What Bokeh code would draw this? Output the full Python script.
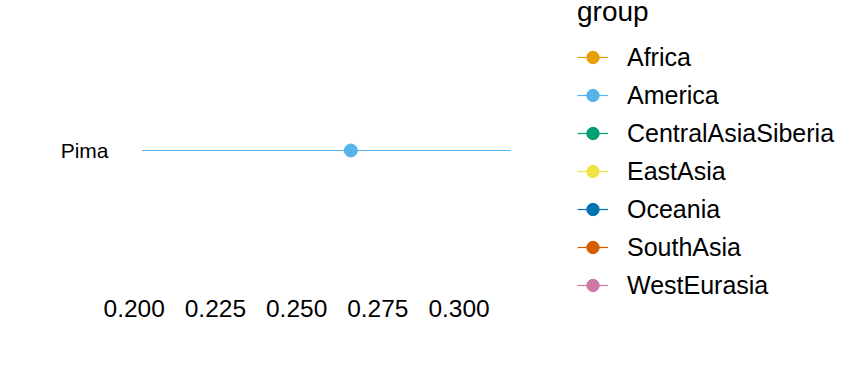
from bokeh.plotting import figure
from bokeh.models import Range1d, FactorRange, Legend, LegendItem, FixedTicker, ColumnDataSource
from bokeh.embed import file_html
from bokeh.resources import INLINE

groups = ["Africa", "America", "CentralAsiaSiberia", "EastAsia", "Oceania", "SouthAsia", "WestEurasia"]
group_colors = ["#E69F00", "#56B4E9", "#009E73", "#F0E442", "#0072B2", "#D55E00", "#CC79A7"]
populations = ["Pima"]
population_group = ["America"]
estimates = [0.2667]
lower = [0.2024]
upper = [0.3160]
x_ticks = [0.200, 0.225, 0.250, 0.275, 0.300]
x_tick_labels = ["0.200", "0.225", "0.250", "0.275", "0.300"]

FONT = "Liberation Sans"
NAN = float("nan")

lo, hi = min(lower), max(upper)
pad = 0.05 * (hi - lo)

p = figure(width=864, height=384, frame_width=406, frame_height=284,
           x_range=Range1d(lo - pad, hi + pad),
           y_range=FactorRange(factors=populations),
           output_backend="svg", toolbar_location=None,
           min_border_left=123, min_border_right=335,
           min_border_top=8, min_border_bottom=92)

p.outline_line_color = None
p.background_fill_color = "white"
p.border_fill_color = "white"
p.xgrid.visible = False
p.ygrid.visible = False

p.xaxis.ticker = FixedTicker(ticks=x_ticks)
p.xaxis.major_label_overrides = {t: l for t, l in zip(x_ticks, x_tick_labels)}
for ax in (p.xaxis[0], p.yaxis[0]):
    ax.axis_line_color = None
    ax.major_tick_line_color = None
    ax.minor_tick_line_color = None
    ax.major_label_text_font = FONT
    ax.major_label_text_color = "black"
p.xaxis.major_label_text_font_size = "24.5px"
p.xaxis.major_label_standoff = 1
p.yaxis.major_label_text_font_size = "21px"
p.yaxis.major_label_standoff = 9

items = []
for g, c in zip(groups, group_colors):
    idx = [i for i, pg in enumerate(population_group) if pg == g]
    if idx:
        data = dict(pop=[populations[i] for i in idx],
                    est=[estimates[i] for i in idx],
                    lo=[lower[i] for i in idx],
                    hi=[upper[i] for i in idx])
    else:
        # no population in this group: a placeholder row that draws nothing
        data = dict(pop=[populations[0]], est=[NAN], lo=[NAN], hi=[NAN])
    src = ColumnDataSource(data)
    seg = p.segment(x0="lo", y0="pop", x1="hi", y1="pop", source=src,
                    line_color=c, line_width=1.2)
    pt = p.scatter(x="est", y="pop", source=src, size=13,
                   fill_color=c, line_color=c)
    items.append(LegendItem(label=g, renderers=[seg, pt]))

legend = Legend(items=items, title="group", location=(48, -12), margin=0,
                padding=5, spacing=0, glyph_width=31, glyph_height=38,
                label_height=38, label_standoff=19,
                label_text_font=FONT, label_text_font_size="25px",
                label_text_color="black",
                title_text_font=FONT, title_text_font_size="28px",
                title_text_font_style="normal", title_text_color="black",
                title_standoff=10,
                border_line_color=None, background_fill_alpha=0)
p.add_layout(legend, "right")

open("out.html", "w").write(file_html(p, INLINE))
